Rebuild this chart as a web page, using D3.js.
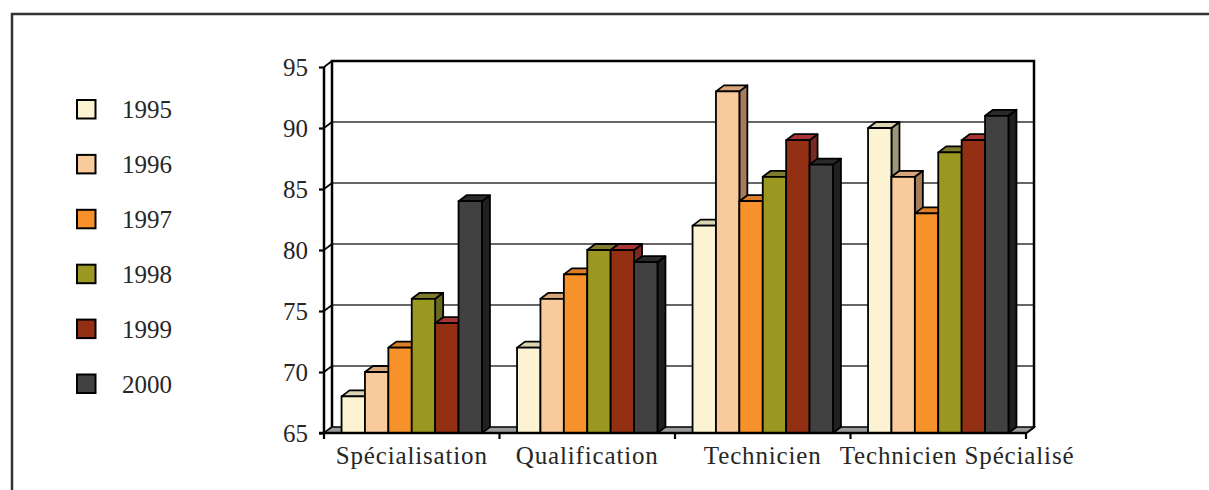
<!DOCTYPE html>
<html>
<head>
<meta charset="utf-8">
<script src="https://cdn.jsdelivr.net/npm/d3@7"></script>
<style>
  html, body { margin: 0; padding: 0; background: #fff; }
  svg { display: block; }
  text { font-family: "Liberation Serif", "DejaVu Serif", serif; fill: #262626; }
</style>
</head>
<body>
<svg id="chart" width="1209" height="490"></svg>
<script>
// Categories and yearly series
const categories = ["Spécialisation", "Qualification", "Technicien", "Technicien Spécialisé"];
const years = ["1995", "1996", "1997", "1998", "1999", "2000"];
const values1995 = [68, 72, 82, 90];
const values1996 = [70, 76, 93, 86];
const values1997 = [72, 78, 84, 83];
const values1998 = [76, 80, 86, 88];
const values1999 = [74, 80, 89, 89];
const values2000 = [84, 79, 87, 91];
const yTicks = [65, 70, 75, 80, 85, 90, 95];

const series = [values1995, values1996, values1997, values1998, values1999, values2000];
const frontColors = ["#FBF3D2", "#F8CA9C", "#F7912A", "#9B9822", "#933014", "#414141"];
const topColors   = ["#DCD5B2", "#D9A679", "#DD7F27", "#7E7A2E", "#A93436", "#2B2929"];
const sideColors  = ["#9C9779", "#A67C5A", "#B0651F", "#6A6820", "#7A2A26", "#231F1F"];

const svg = d3.select("#chart");

// outer frame
svg.append("rect")
  .attr("x", 12).attr("y", 14).attr("width", 1230).attr("height", 500)
  .attr("fill", "none").attr("stroke", "#333").attr("stroke-width", 2.5);

// oblique depth of the 3D plot
const dx = 8, dy = 6;
const x0 = 324, x1 = 1026;
const y = d3.scaleLinear().domain([65, 95]).range([433, 67]);
const xCat = d3.scaleBand().domain(categories).range([x0, x1]).paddingInner(0.2).paddingOuter(0.1);
const xBar = d3.scaleBand().domain(years).range([0, xCat.bandwidth()]);

const g = svg.append("g");

// back wall gridlines
g.selectAll("line.grid").data(yTicks.slice(1, -1)).join("line")
  .attr("x1", x0 + dx).attr("x2", x1 + dx)
  .attr("y1", d => y(d) - dy).attr("y2", d => y(d) - dy)
  .attr("stroke", "#333").attr("stroke-width", 1.6);
// side wall gridlines
g.selectAll("line.sgrid").data(yTicks).join("line")
  .attr("x1", x0).attr("x2", x0 + dx)
  .attr("y1", d => y(d)).attr("y2", d => y(d) - dy)
  .attr("stroke", "#000").attr("stroke-width", 1.6);

// back wall frame: top edge, left edge, right edge
g.append("path")
  .attr("d", `M${x0 + dx},${y(65) - dy} V${y(95) - dy} H${x1 + dx} V${y(65) - dy} L${x1},${y(65)}`)
  .attr("fill", "none").attr("stroke", "#000").attr("stroke-width", 2.5)
  .attr("stroke-linejoin", "miter");

// floor
g.append("path")
  .attr("d", `M${x0},${y(65)} L${x1},${y(65)} L${x1 + dx},${y(65) - dy} L${x0 + dx},${y(65) - dy} Z`)
  .attr("fill", "#9A9A9A").attr("stroke", "#000").attr("stroke-width", 1.5);

// bars, left to right so nearer faces overlap
const bars = [];
categories.forEach((c, ci) => {
  years.forEach((yr, si) => {
    bars.push({ c, si, v: series[si][ci] });
  });
});

const barG = g.selectAll("g.bar").data(bars).join("g").attr("class", "bar");
barG.each(function(d) {
  const sel = d3.select(this);
  const bx0 = xCat(d.c) + xBar(years[d.si]);
  const bx1 = bx0 + xBar.bandwidth();
  const yt = y(d.v), yb = y(65);
  const stroke = { stroke: "#000", "stroke-width": 1.8, "stroke-linejoin": "round" };
  const side = sel.append("path")
    .attr("d", `M${bx1},${yt} L${bx1 + dx},${yt - dy} L${bx1 + dx},${yb - dy} L${bx1},${yb} Z`)
    .attr("fill", sideColors[d.si]);
  const top = sel.append("path")
    .attr("d", `M${bx0},${yt} L${bx1},${yt} L${bx1 + dx},${yt - dy} L${bx0 + dx},${yt - dy} Z`)
    .attr("fill", topColors[d.si]);
  const front = sel.append("rect")
    .attr("x", bx0).attr("y", yt).attr("width", bx1 - bx0).attr("height", yb - yt)
    .attr("fill", frontColors[d.si]);
  [side, top, front].forEach(s => Object.entries(stroke).forEach(([k, v]) => s.attr(k, v)));
});

// y axis
const yAxis = d3.axisLeft(y).tickValues(yTicks).tickSize(5).tickPadding(11).tickFormat(d3.format("d"));
const ya = svg.append("g").attr("transform", `translate(${x0},0)`).call(yAxis);
ya.select(".domain").attr("stroke", "#000").attr("stroke-width", 2.5)
  .attr("d", `M0,${y(95)}V${y(65)}`);
ya.selectAll(".tick line").attr("stroke", "#000").attr("stroke-width", 2.2);
ya.selectAll(".tick text").attr("font-size", 25).attr("fill", "#262626")
  .attr("font-family", "Liberation Serif, serif");

// x axis baseline and category ticks
const xa = svg.append("g");
xa.append("line").attr("x1", x0 - 5).attr("x2", x1).attr("y1", y(65)).attr("y2", y(65))
  .attr("stroke", "#000").attr("stroke-width", 2.5);
const bounds = categories.map(c => xCat(c) - xCat.step() * xCat.paddingOuter()).concat([x1]);
xa.selectAll("line.ct").data(bounds).join("line")
  .attr("x1", d => d).attr("x2", d => d)
  .attr("y1", y(65)).attr("y2", y(65) + 6)
  .attr("stroke", "#000").attr("stroke-width", 2.2);

const labels = xa.selectAll("text.cat").data(categories).join("text")
  .attr("class", "cat")
  .attr("x", d => xCat(d) + xCat.bandwidth() / 2)
  .attr("y", 464)
  .attr("text-anchor", "middle")
  .attr("font-size", 25)
  .attr("letter-spacing", 0.85)
  .text(d => d);
// push a label right when it would run into its neighbour
let prevRight = -Infinity;
labels.each(function() {
  const bb = this.getBBox();
  if (bb.x < prevRight + 18) {
    const shift = prevRight + 18 - bb.x;
    d3.select(this).attr("x", +d3.select(this).attr("x") + shift);
    prevRight = bb.x + bb.width + shift;
  } else {
    prevRight = bb.x + bb.width;
  }
});

// legend
const legend = svg.append("g").attr("transform", "translate(77,100)");
const li = legend.selectAll("g").data(years).join("g")
  .attr("transform", (d, i) => `translate(0,${i * 54.9})`);
li.append("rect").attr("width", 18.5).attr("height", 18.5)
  .attr("fill", (d, i) => frontColors[i]).attr("stroke", "#000").attr("stroke-width", 2);
li.append("text").attr("x", 45).attr("y", 18).attr("font-size", 25).text(d => d);
</script>
</body>
</html>
